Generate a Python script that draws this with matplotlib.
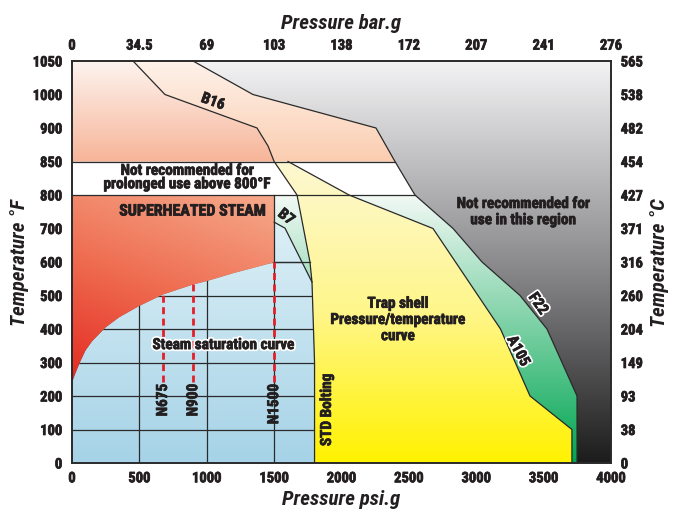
import matplotlib.pyplot as plt
import matplotlib.patheffects as pe
import numpy as np
from matplotlib.patches import Polygon
from matplotlib.colors import LinearSegmentedColormap, to_rgb

plt.rcParams['font.family'] = ['Roboto Condensed', 'DejaVu Sans']

# temperature axis: ticks are evenly spaced on the chart, not linear
temp_ticks = [0, 100, 200, 300, 400, 500, 600, 700, 800, 850, 900, 1000, 1050]
temp_c_labels = ['0', '38', '93', '149', '204', '260', '316', '371', '427', '454', '482', '538', '565']
psi_ticks = [0, 500, 1000, 1500, 2000, 2500, 3000, 3500, 4000]
bar_labels = ['0', '34.5', '69', '103', '138', '172', '207', '241', '276']

# steam saturation curve (psi.g, °F)
sat_psi = [0, 10, 25, 60, 100, 150, 250, 350, 500, 675, 900, 1000, 1200, 1500]
sat_temp = [238, 252, 268, 302, 336, 364, 405, 435, 469, 503, 533, 543, 567, 599]

# material limit lines (psi.g, °F)
b16_psi = [453, 690, 1373, 1455, 1500, 1670, 1766, 1781, 1800, 1800]
b16_temp = [1050, 1000, 900, 873, 850, 800, 600, 540, 300, 0]
f22_psi = [898, 1343, 2256, 2397, 2545, 2828, 3043, 3325, 3525, 3748, 3748]
f22_temp = [1050, 1000, 900, 850, 800, 700, 600, 500, 400, 200, 0]
a105_psi = [1603, 2056, 2679, 3180, 3399, 3710, 3710]
a105_temp = [850, 800, 700, 400, 200, 100, 0]
b7_psi = [1500, 1581, 1781]
b7_temp = [719, 701, 540]

nozzles = [675, 900, 1500]
nozzle_names = ['N675', 'N900', 'N1500']

idx = np.arange(len(temp_ticks))


def fwd(t):
    return np.interp(t, temp_ticks, idx)


def inv(i):
    return np.interp(i, idx, temp_ticks)


def poly(ax, xs, ys, z):
    p = Polygon(np.column_stack([xs, ys]), closed=True, fc='none', ec='none', zorder=z)
    ax.add_patch(p)
    return p


def vgrad(ax, patch, t_lo, t_hi, c_lo, c_hi, z, c_mid=None):
    cols = [c_lo, c_mid, c_hi] if c_mid else [c_lo, c_hi]
    cmap = LinearSegmentedColormap.from_list('g', cols)
    y0, y1 = fwd(t_lo) / 12, fwd(t_hi) / 12
    im = ax.imshow(np.linspace(0, 1, 256).reshape(-1, 1), cmap=cmap, aspect='auto',
                   origin='lower', extent=[0, 1, y0, y1], transform=ax.transAxes,
                   zorder=z, interpolation='bilinear')
    im.set_clip_path(patch)


fig = plt.figure(figsize=(6.78, 5.10), dpi=100)
ax = fig.add_axes([72 / 678, 46 / 510, 539 / 678, 402 / 510])
ax.set_yscale('function', functions=(fwd, inv))

# grey background (not recommended)
bg = poly(ax, [0, 4000, 4000, 0], [0, 0, 1050, 1050], 0)
vgrad(ax, bg, 0, 1050, '#1c1c1c', '#f3f3f4', 0.5, c_mid='#8c8c8f')

# peach areas above 850
pa_x = [0, 0] + b16_psi[:5]
pa_y = [850, 1050] + b16_temp[:5]
pa = poly(ax, pa_x, pa_y, 1)
vgrad(ax, pa, 850, 1050, '#f7b498', '#fdf4ef', 1.1)
pb_x = f22_psi[:4] + b16_psi[:5][::-1]
pb_y = f22_temp[:4] + b16_temp[:5][::-1]
pb = poly(ax, pb_x, pb_y, 1)
vgrad(ax, pb, 850, 1050, '#fbcdb0', '#fef2ea', 1.1)

# white band 800-850
ax.add_patch(Polygon([[0, 800], [0, 850], [2397, 850], [2545, 800]], fc='white', ec='none', zorder=1))

# yellow trap shell area
yx = [1500] + a105_psi + b16_psi[4:][::-1]
yy = [850] + a105_temp + b16_temp[4:][::-1]
yl = poly(ax, yx, yy, 2)
vgrad(ax, yl, 0, 850, '#fff200', '#fdf8d2', 2.1, c_mid='#fff68a')

# green A105 / F22 area
gx = a105_psi[1:] + f22_psi[4:][::-1]
gy = a105_temp[1:] + f22_temp[4:][::-1]
gr = poly(ax, gx, gy, 2)
vgrad(ax, gr, 0, 800, '#00a651', '#f2f9f5', 2.1)

# B7 sliver
sx = [1500, 1670, 1766, 1781] + b7_psi[::-1][1:]
sy = [800, 800, 600, 540] + b7_temp[::-1][1:]
sl = poly(ax, sx, sy, 2)
vgrad(ax, sl, 0, 800, '#00a651', '#f2f9f5', 2.1)

# blue area below saturation curve
bx = [0] + sat_psi + b7_psi + [1800, 1800]
by = [0] + sat_temp + b7_temp + [300, 0]
bl = poly(ax, bx, by, 2)
vgrad(ax, bl, 0, 720, '#a6d3e7', '#dceff6', 2.1)

# superheated steam (red)
rx = [0, 1500, 1500] + sat_psi[::-1]
ry = [800, 800, 599] + sat_temp[::-1]
rd = poly(ax, rx, ry, 2)
n = 120
hh, vv = np.meshgrid(np.linspace(0, 1, n), np.linspace(0, 1, n))
p = np.clip(0.72 * vv + 0.28 * hh, 0, 1)
c0, c1, c2 = np.array(to_rgb('#e42a22')), np.array(to_rgb('#ef6e52')), np.array(to_rgb('#f6ab8c'))
rgb = np.where((p < 0.5)[..., None], c0 + (c1 - c0) * (p / 0.5)[..., None],
               c1 + (c2 - c1) * ((p - 0.5) / 0.5)[..., None])
im = ax.imshow(rgb, aspect='auto', origin='lower',
               extent=[0, 1500 / 4000, fwd(238) / 12, fwd(800) / 12],
               transform=ax.transAxes, zorder=2.1, interpolation='bilinear')
im.set_clip_path(rd)

# grid inside the blue area
for gx_ in [500, 1000]:
    ln, = ax.plot([gx_, gx_], [0, 800], color='#2a2a2a', lw=0.9, zorder=3)
    ln.set_clip_path(bl)
for gy_ in [100, 200, 300, 400, 500, 600]:
    ln, = ax.plot([0, 1800], [gy_, gy_], color='#2a2a2a', lw=0.9, zorder=3)
    ln.set_clip_path(bl)

lc = '#2a2a2a'
ax.plot([1500, 1766], [600, 600], color=lc, lw=0.9, zorder=3)
ax.plot([1500, 1500], [0, 800], color=lc, lw=0.9, zorder=3)
ax.plot([0, 2397], [850, 850], color=lc, lw=0.9, zorder=3)
ax.plot([0, 2545], [800, 800], color=lc, lw=0.9, zorder=3)
ax.plot(b16_psi, b16_temp, color=lc, lw=0.9, zorder=3)
ax.plot(f22_psi, f22_temp, color=lc, lw=0.9, zorder=3)
ax.plot(a105_psi, a105_temp, color=lc, lw=0.9, zorder=3)
ax.plot(b7_psi, b7_temp, color=lc, lw=0.9, zorder=3)

dark = '#231f20'
heavy = [pe.withStroke(linewidth=0.5, foreground=dark)]
white = [pe.Stroke(linewidth=3, foreground='white'),
         pe.Stroke(linewidth=0.5, foreground=dark), pe.Normal()]

# nozzle limits
for x_, name in zip(nozzles, nozzle_names):
    top = np.interp(x_, sat_psi, sat_temp)
    ax.plot([x_, x_], [242, top], color='#e3202a', lw=2, ls=(0, (2.5, 1.6)), zorder=4)
    ax.text(x_, 236, name, rotation=90, ha='center', va='top', fontsize=11,
            fontweight='bold', color=dark, zorder=5, path_effects=heavy)

txt = dict(fontweight='bold', color=dark, zorder=5, ha='center', va='center')
ax.text(894, 752, 'SUPERHEATED STEAM', fontsize=11.5, path_effects=heavy, **txt)
ax.text(853, 826, 'Not recommended for\nprolonged use above 800°F', fontsize=11,
        linespacing=0.95, path_effects=heavy, **txt)
ax.text(1121, 352, 'Steam saturation curve', fontsize=11, path_effects=white, **txt)
ax.text(2419, 427, 'Trap shell\nPressure/temperature\ncurve', fontsize=11,
        linespacing=1.2, path_effects=heavy, **txt)
ax.text(3347, 749, 'Not recommended for\nuse in this region', fontsize=11,
        linespacing=1.2, path_effects=heavy, **txt)
ax.text(1892, 158, 'STD Bolting', fontsize=11, rotation=90, path_effects=heavy, **txt)
ax.text(1046, 978, 'B16', fontsize=11, rotation=-20, path_effects=heavy, **txt)
ax.text(1588, 734, 'B7', fontsize=11, rotation=-38, path_effects=heavy, **txt)
ax.text(3458, 475, 'F22', fontsize=11, rotation=-55, path_effects=white, **txt)
ax.text(3310, 334, 'A105', fontsize=11, rotation=-62, path_effects=white, **txt)

ax.set_xlim(0, 4000)
ax.set_ylim(0, 1050)
ax.set_xticks(psi_ticks)
ax.set_yticks(temp_ticks)
ax.set_yticklabels([str(t) for t in temp_ticks])
ax.tick_params(length=0, labelsize=10.5, colors=dark)
ax.tick_params(axis='y', pad=7)
ax.tick_params(axis='x', pad=6)
for lab in ax.get_xticklabels() + ax.get_yticklabels():
    lab.set_fontweight('bold')
    lab.set_path_effects(heavy)
for s in ax.spines.values():
    s.set_color('#2a2a2a')
    s.set_linewidth(1.4)
lbl = dict(fontsize=15, fontweight='bold', style='italic', color=dark)
ax.set_xlabel('Pressure psi.g', labelpad=3, **lbl)
ax.set_ylabel('Temperature °F', labelpad=3, **lbl)

axr = ax.twinx()
axr.set_yscale('function', functions=(fwd, inv))
axr.set_ylim(0, 1050)
axr.set_yticks(temp_ticks)
axr.set_yticklabels(temp_c_labels, fontweight='bold')
axr.tick_params(length=0, labelsize=10.5, pad=7, colors=dark)
axr.set_ylabel('Temperature °C', labelpad=5, **lbl)
for lab in axr.get_yticklabels():
    lab.set_path_effects(heavy)
for s in axr.spines.values():
    s.set_visible(False)

axt = ax.twiny()
axt.set_xlim(0, 4000)
axt.set_xticks(psi_ticks)
axt.set_xticklabels(bar_labels, fontweight='bold')
axt.tick_params(length=0, labelsize=10.5, pad=6, colors=dark)
axt.set_xlabel('Pressure bar.g', labelpad=8, **lbl)
for lab in axt.get_xticklabels():
    lab.set_path_effects(heavy)
for s in axt.spines.values():
    s.set_visible(False)

fig.savefig('out.png', dpi=100)
